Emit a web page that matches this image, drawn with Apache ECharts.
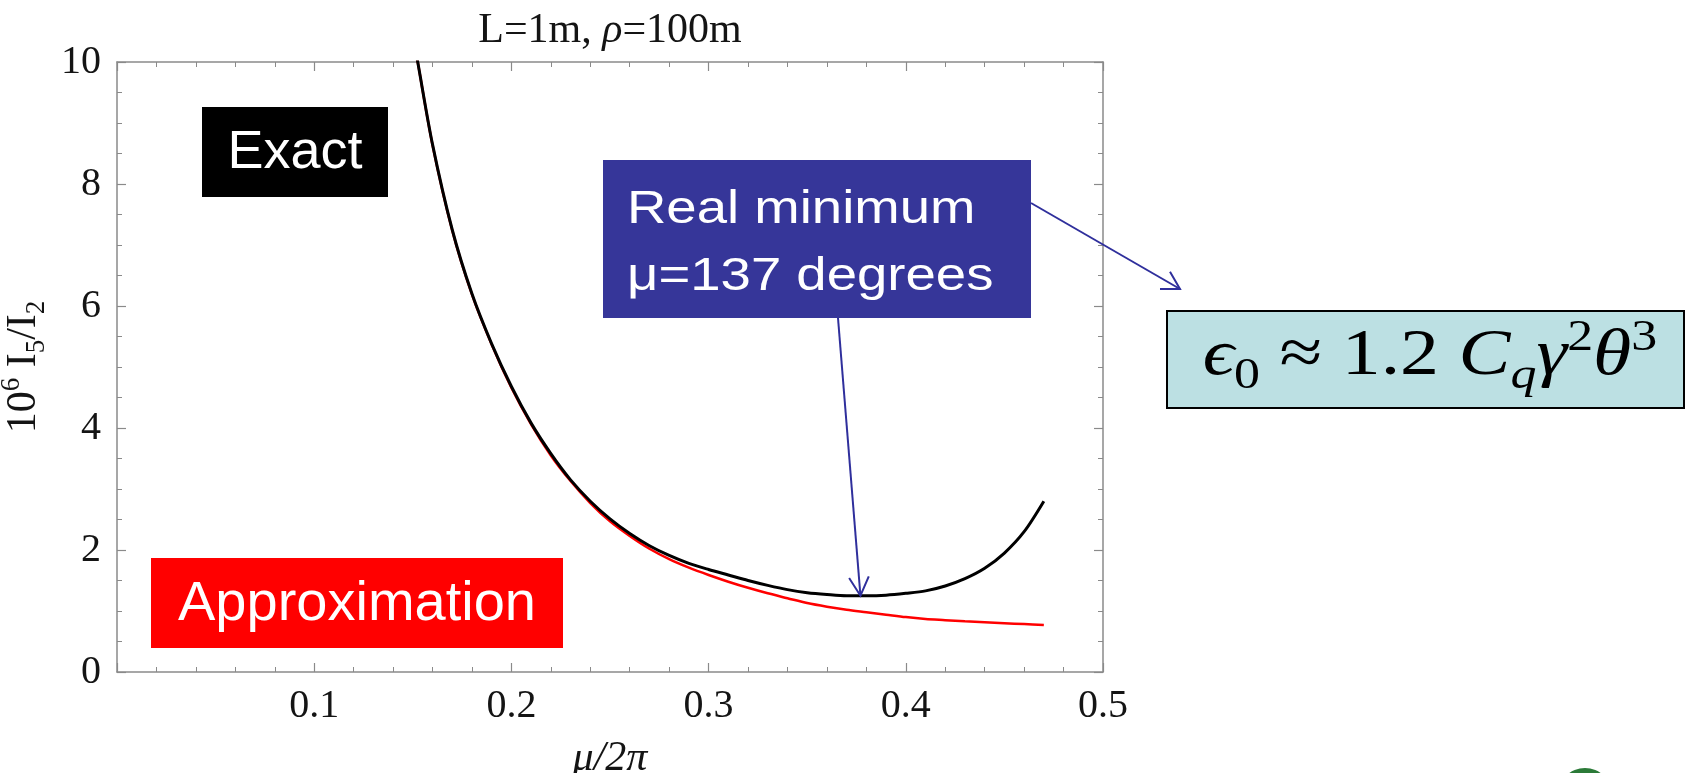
<!DOCTYPE html>
<html>
<head>
<meta charset="utf-8">
<title>I5/I2 versus phase advance</title>
<script src="https://cdn.jsdelivr.net/npm/echarts@6/dist/echarts.min.js"></script>
<style>
  html, body { margin: 0; padding: 0; background: #fff; }
  #chart { width: 1687px; height: 773px; }
</style>
</head>
<body>
<div id="chart"></div>
<script>
// mu / 2pi sample points
const muValues = [0.15, 0.1525, 0.16, 0.17, 0.18, 0.19, 0.20, 0.21, 0.22, 0.23, 0.24,
  0.25, 0.26, 0.27, 0.28, 0.29, 0.30, 0.31, 0.32, 0.33, 0.34, 0.35, 0.36, 0.37,
  0.38, 0.39, 0.40, 0.41, 0.42, 0.43, 0.44, 0.45, 0.46, 0.47];
// 10^6 I5/I2, exact calculation (black)
const exactValues = [10.45, 10.0, 8.65, 7.25, 6.20, 5.38, 4.68, 4.08, 3.58, 3.15, 2.80,
  2.51, 2.27, 2.07, 1.91, 1.78, 1.68, 1.59, 1.50, 1.42, 1.35, 1.30, 1.27, 1.25,
  1.25, 1.26, 1.29, 1.33, 1.41, 1.53, 1.70, 1.95, 2.30, 2.80];
// 10^6 I5/I2, approximation (red)
const approxValues = [10.45, 10.0, 8.64, 7.24, 6.19, 5.37, 4.66, 4.06, 3.55, 3.13, 2.77,
  2.47, 2.23, 2.02, 1.85, 1.71, 1.59, 1.48, 1.38, 1.29, 1.21, 1.13, 1.07, 1.02,
  0.98, 0.94, 0.90, 0.87, 0.85, 0.83, 0.815, 0.80, 0.785, 0.77];
// point the "real minimum" arrow goes to
const minPoint = [0.377, 1.25];

const serif = '"Liberation Serif", "Times New Roman", serif';
const sans = '"Liberation Sans", Arial, sans-serif';
const frameColor = '#8a8a8a';
const arrowColor = '#2f2f9c';
const ink = '#141414';

const chart = echarts.init(document.getElementById('chart'));

function frameAxis(extra) {
  return Object.assign({
    type: 'value',
    axisLine: { show: true, onZero: false, lineStyle: { color: frameColor, width: 1.5 } },
    axisTick: { show: true, inside: true, length: 9, lineStyle: { color: frameColor, width: 1.2 } },
    splitLine: { show: false }
  }, extra);
}

const tickLabel = { fontFamily: serif, fontSize: 40, color: ink };
const xMinor = { show: true, splitNumber: 5, length: 5, lineStyle: { color: frameColor, width: 1 } };
const yMinor = { show: true, splitNumber: 4, length: 5, lineStyle: { color: frameColor, width: 1 } };

chart.setOption({
  animation: false,
  title: {
    text: 'L=1m, {it|ρ}=100m',
    left: 610,
    top: 10,
    textAlign: 'center',
    padding: 0,
    textStyle: {
      fontFamily: serif, fontSize: 42, fontWeight: 'normal', color: ink,
      rich: { it: { fontFamily: serif, fontSize: 42, fontStyle: 'italic', color: ink } }
    }
  },
  grid: { left: 117, right: 584, top: 62, bottom: 101, containLabel: false, outerBoundsMode: 'none' },
  xAxis: [
    frameAxis({
      min: 0, max: 0.5, interval: 0.1, position: 'bottom',
      minorTick: xMinor,
      axisLabel: Object.assign({ showMinLabel: false, margin: 14, formatter: v => v.toFixed(1) }, tickLabel),
      name: 'μ/2π',
      nameLocation: 'middle',
      nameGap: 66,
      nameTextStyle: { fontFamily: serif, fontSize: 42, fontStyle: 'italic', color: ink }
    }),
    frameAxis({
      min: 0, max: 0.5, interval: 0.1, position: 'top',
      minorTick: xMinor,
      axisLabel: { show: false }
    })
  ],
  yAxis: [
    frameAxis({
      min: 0, max: 10, interval: 2, position: 'left',
      minorTick: yMinor,
      axisLabel: Object.assign({ margin: 16 }, tickLabel),
      name: '{n|10}{sup|6}{n| I}{sub|5}{n|/I}{sub|2}',
      nameLocation: 'middle',
      nameRotate: 90,
      nameGap: 66,
      nameTextStyle: {
        color: ink,
        rich: {
          n: { fontFamily: serif, fontSize: 42, lineHeight: 52, color: ink },
          sup: { fontFamily: serif, fontSize: 27, verticalAlign: 'top', color: ink },
          sub: { fontFamily: serif, fontSize: 27, verticalAlign: 'bottom', color: ink }
        }
      }
    }),
    frameAxis({
      min: 0, max: 10, interval: 2, position: 'right',
      minorTick: yMinor,
      axisLabel: { show: false }
    })
  ],
  series: [
    {
      name: 'Approximation',
      type: 'line',
      data: muValues.map((m, i) => [m, approxValues[i]]),
      showSymbol: false,
      smooth: 0.3,
      clip: true,
      lineStyle: { color: '#ff0000', width: 2.5 }
    },
    {
      name: 'Exact',
      type: 'line',
      data: muValues.map((m, i) => [m, exactValues[i]]),
      showSymbol: false,
      smooth: 0.3,
      clip: true,
      lineStyle: { color: '#000000', width: 3 }
    }
  ]
});

// open V arrow head at "to", coming from "from"
function arrowHead(from, to, len, deg) {
  const ang = Math.atan2(from[1] - to[1], from[0] - to[0]);
  const a = deg * Math.PI / 180;
  return [
    [to[0] + len * Math.cos(ang + a), to[1] + len * Math.sin(ang + a)],
    to,
    [to[0] + len * Math.cos(ang - a), to[1] + len * Math.sin(ang - a)]
  ];
}

const tip = chart.convertToPixel({ xAxisIndex: 0, yAxisIndex: 0 }, minPoint);
const arrow1From = [838, 318];
const arrow2From = [1031, 203];
const arrow2To = [1180, 289];
const arrowStyle = { stroke: arrowColor, lineWidth: 2, fill: null };

function boxLabel(text, cx, cy, size) {
  return {
    type: 'text', x: cx, y: cy, z: 20,
    style: { text: text, fill: '#fff', fontFamily: sans, fontSize: size,
      align: 'center', verticalAlign: 'middle', textAlign: 'center', textVerticalAlign: 'middle' }
  };
}

chart.setOption({
  graphic: [
    { type: 'rect', z: 10, shape: { x: 202, y: 107, width: 186, height: 90 }, style: { fill: '#000' } },
    boxLabel('Exact', 295, 153, 54),
    { type: 'rect', z: 10, shape: { x: 151, y: 558, width: 412, height: 90 }, style: { fill: '#ff0000' } },
    boxLabel('Approximation', 357, 605, 56),
    { type: 'rect', z: 10, shape: { x: 603, y: 160, width: 428, height: 158 }, style: { fill: '#363699' } },
    {
      type: 'text', x: 627, y: 210, z: 20, scaleX: 1.16,
      style: { text: 'Real minimum', fill: '#fff', fontFamily: sans, fontSize: 47,
        align: 'left', verticalAlign: 'middle', textAlign: 'left', textVerticalAlign: 'middle' }
    },
    {
      type: 'text', x: 627, y: 277, z: 20, scaleX: 1.16,
      style: { text: 'μ=137 degrees', fill: '#fff', fontFamily: sans, fontSize: 47,
        align: 'left', verticalAlign: 'middle', textAlign: 'left', textVerticalAlign: 'middle' }
    },
    { type: 'polyline', z: 15, shape: { points: [arrow1From, tip] }, style: arrowStyle },
    { type: 'polyline', z: 15, shape: { points: arrowHead(arrow1From, tip, 21, 28) }, style: arrowStyle },
    { type: 'polyline', z: 15, shape: { points: [arrow2From, arrow2To] }, style: arrowStyle },
    { type: 'polyline', z: 15, shape: { points: arrowHead(arrow2From, arrow2To, 20, 30) }, style: arrowStyle },
    {
      type: 'rect', z: 10, shape: { x: 1167, y: 311, width: 517, height: 97 },
      style: { fill: '#bce0e3', stroke: '#000', lineWidth: 2 }
    },
    {
      type: 'text', x: 1430, y: 357, z: 20, scaleX: 1.18,
      style: {
        text: '{e|ϵ}{u|0}{n| ≈ 1.2 }{e|C}{s|q}{e|γ}{p|2}{e|θ}{p|3}',
        align: 'center', verticalAlign: 'middle', textAlign: 'center', textVerticalAlign: 'middle',
        rich: {
          n: { fontFamily: serif, fontSize: 66, lineHeight: 82, fill: '#000' },
          e: { fontFamily: serif, fontSize: 66, fontStyle: 'italic', lineHeight: 82, fill: '#000' },
          u: { fontFamily: serif, fontSize: 44, verticalAlign: 'bottom', fill: '#000' },
          s: { fontFamily: serif, fontSize: 44, fontStyle: 'italic', verticalAlign: 'bottom', fill: '#000' },
          p: { fontFamily: serif, fontSize: 44, verticalAlign: 'top', fill: '#000' }
        }
      }
    },
    { type: 'circle', z: 5, shape: { cx: 1585, cy: 795, r: 27 }, style: { fill: '#2b7a38' } }
  ]
});
</script>
</body>
</html>
